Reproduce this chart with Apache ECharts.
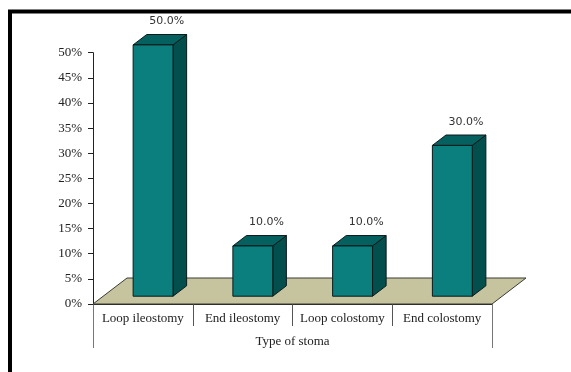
<!DOCTYPE html>
<html>
<head>
<meta charset="utf-8">
<style>
  html, body { margin: 0; padding: 0; background: #fff; }
  #chart { width: 571px; height: 372px; }
</style>
<script src="https://cdn.jsdelivr.net/npm/echarts@6/dist/echarts.min.js"></script>
</head>
<body>
<div id="chart"></div>
<script>
// Stoma types and their share of patients (%)
const categories = ['Loop ileostomy', 'End ileostomy', 'Loop colostomy', 'End colostomy'];
const shares = [50, 10, 10, 30];
const axisTitle = 'Type of stoma';
const yTicks = { min: 0, max: 50, interval: 5 };

// Pseudo-3D projection: screen offset of the full floor depth
const DEPTH_DX = 34;
const DEPTH_DY = -26;
const FRONT_F = 0.3;   // bar front face, as a fraction of floor depth
const BACK_F = 0.7;    // bar back face
const BAR_RATIO = 0.4; // bar width relative to category band

const COLOR_FRONT = '#0a7f7d';
const COLOR_TOP = '#05615f';
const COLOR_SIDE = '#034f4d';
const COLOR_FLOOR = '#c6c49f';

const serif = '"Liberation Serif", "DejaVu Serif", serif';

const chart = echarts.init(document.getElementById('chart'), null, { renderer: 'canvas' });

function renderFloor(params, api) {
  const band = api.size([1, 0])[0];
  const a = api.coord([0, 0]);
  const b = api.coord([categories.length - 1, 0]);
  const xl = a[0] - band / 2, xr = b[0] + band / 2, y = a[1];
  return {
    type: 'polygon',
    shape: { points: [[xl, y], [xr, y], [xr + DEPTH_DX, y + DEPTH_DY], [xl + DEPTH_DX, y + DEPTH_DY]] },
    style: { fill: COLOR_FLOOR, stroke: '#3a3a32', lineWidth: 1 }
  };
}

function renderBar(params, api) {
  const i = api.value(0), v = api.value(1);
  const base = api.coord([i, 0]);
  const top = api.coord([i, v]);
  const band = api.size([1, 0])[0];
  const w = band * BAR_RATIO;
  const fx = DEPTH_DX * FRONT_F, fy = DEPTH_DY * FRONT_F;
  const bx = DEPTH_DX * BACK_F, by = DEPTH_DY * BACK_F;
  const ddx = bx - fx, ddy = by - fy;
  const x0 = base[0] - w / 2 + fx, x1 = x0 + w;
  const yb = base[1] + fy, yt = top[1] + fy;
  const edge = { stroke: '#0b1a1a', lineWidth: 1, lineJoin: 'round' };
  return {
    type: 'group',
    children: [
      { type: 'polygon', shape: { points: [[x1, yb], [x1 + ddx, yb + ddy], [x1 + ddx, yt + ddy], [x1, yt]] },
        style: Object.assign({ fill: COLOR_SIDE }, edge) },
      { type: 'polygon', shape: { points: [[x0, yt], [x1, yt], [x1 + ddx, yt + ddy], [x0 + ddx, yt + ddy]] },
        style: Object.assign({ fill: COLOR_TOP }, edge) },
      { type: 'polygon', shape: { points: [[x0, yb], [x1, yb], [x1, yt], [x0, yt]] },
        style: Object.assign({ fill: COLOR_FRONT }, edge) },
      { type: 'text', x: base[0] + bx, y: top[1] + by - 13,
        style: { text: v.toFixed(1) + '%', fill: '#333', font: '11px "DejaVu Sans", sans-serif',
                 align: 'center', verticalAlign: 'middle' } }
    ]
  };
}

chart.setOption({
  animation: false,
  backgroundColor: '#fff',
  grid: { left: 93, right: 79, top: 52.7, bottom: 68, containLabel: false },
  xAxis: [
    {
      type: 'category', data: categories, position: 'bottom',
      axisLine: { show: true, lineStyle: { color: '#222', width: 1 } },
      axisTick: { show: true, interval: 0, length: 22, alignWithLabel: false, lineStyle: { color: '#555' } },
      axisLabel: { interval: 0, margin: 8, color: '#222', fontFamily: serif, fontSize: 13 },
      splitLine: { show: false }
    },
    {
      type: 'category', data: [axisTitle], position: 'bottom',
      axisLine: { show: false },
      axisTick: { show: true, interval: 0, length: 44, alignWithLabel: false, lineStyle: { color: '#777' } },
      axisLabel: { interval: 0, margin: 31, color: '#222', fontFamily: serif, fontSize: 13 },
      splitLine: { show: false }
    }
  ],
  yAxis: {
    type: 'value', min: yTicks.min, max: yTicks.max, interval: yTicks.interval,
    axisLine: { show: true, lineStyle: { color: '#222', width: 1 } },
    axisTick: { show: true, length: 5, inside: false, lineStyle: { color: '#222' } },
    axisLabel: { margin: 11, color: '#222', fontFamily: serif, fontSize: 13,
                 formatter: function (v) { return v + '%'; } },
    splitLine: { show: false }
  },
  graphic: [
    { type: 'polyline', z: 100, silent: true,
      shape: { points: [[10, 372], [10, 11.5], [571, 11.5]] },
      style: { stroke: '#000', lineWidth: 4, fill: null } }
  ],
  series: [
    { type: 'custom', name: 'floor', xAxisIndex: 0, clip: false, z: 1,
      renderItem: renderFloor, data: [[0, 0]], encode: { x: 0, y: 1 } },
    { type: 'custom', name: 'share', xAxisIndex: 0, clip: false, z: 2,
      renderItem: renderBar, encode: { x: 0, y: 1 },
      data: shares.map(function (s, i) { return [i, s]; }) }
  ]
});
</script>
</body>
</html>
